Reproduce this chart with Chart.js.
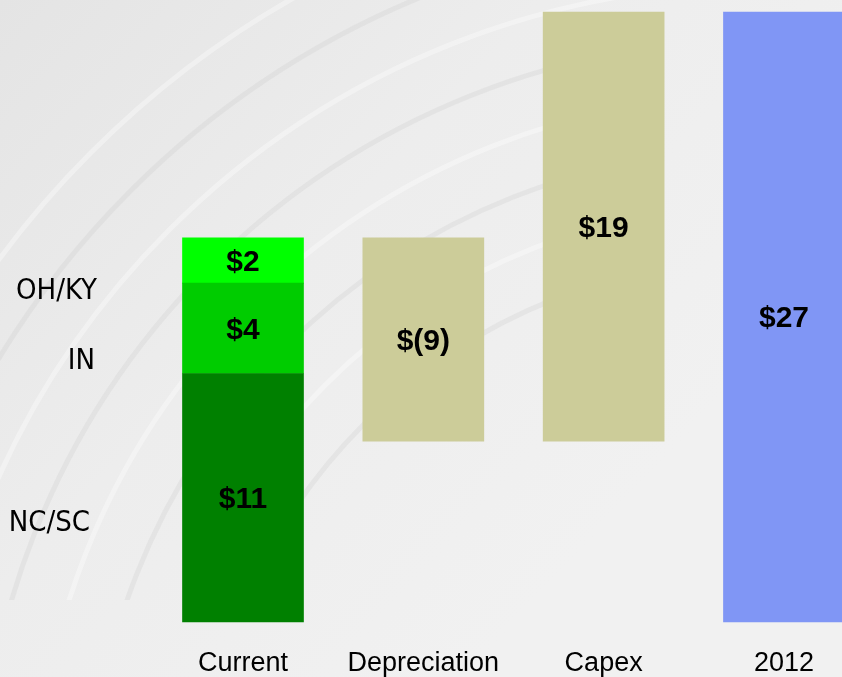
<!DOCTYPE html>
<html>
<head>
<meta charset="utf-8">
<script src="https://cdn.jsdelivr.net/npm/chart.js@4.4.1/dist/chart.umd.min.js"></script>
<style>
  html, body { margin: 0; padding: 0; background: #efefef; }
  canvas { display: block; }
</style>
</head>
<body>
<canvas id="chart" width="842" height="677"></canvas>
<script>
// chart data
const categories = ['Current', 'Depreciation', 'Capex', '2012'];
const regions = ['NC/SC', 'IN', 'OH/KY'];
const currentValues = [11, 4, 2];
const depreciation = -9;
const capex = 19;
const total2012 = 27;
const valueLabels = ['$11', '$4', '$2', '$(9)', '$19', '$27'];

const regionColors = ['#008000', '#00CC00', '#00FF00'];
const stepColor = '#CCCC99';
const totalColor = '#8096F5';

// build floating ranges for the waterfall
let running = 0;
const datasets = [];
currentValues.forEach((v, i) => {
  const data = [null, null, null, null];
  data[0] = [running, running + v];
  running += v;
  datasets.push({ label: regions[i], data: data, backgroundColor: regionColors[i] });
});
const depData = [null, [running + depreciation, running], null, null];
running += depreciation;
datasets.push({ label: 'Depreciation', data: depData, backgroundColor: stepColor });
const capexData = [null, null, [running, running + capex], null];
datasets.push({ label: 'Capex', data: capexData, backgroundColor: stepColor });
datasets.push({ label: '2012', data: [null, null, null, [0, total2012]], backgroundColor: totalColor });
datasets.forEach(ds => { ds.clip = false; ds.barThickness = 121; ds.borderWidth = 0; });

const backgroundPlugin = {
  id: 'background',
  beforeDraw(chart) {
    const ctx = chart.ctx;
    const w = chart.width, h = chart.height;
    ctx.save();
    const g = ctx.createLinearGradient(0, 0, w * 0.7, h * 0.8);
    g.addColorStop(0, '#e4e4e4');
    g.addColorStop(0.5, '#ededed');
    g.addColorStop(1, '#f1f1f1');
    ctx.fillStyle = g;
    ctx.fillRect(0, 0, w, h);
    // faint curved roof structure in the upper left
    ctx.beginPath();
    ctx.rect(0, 0, 620, 600);
    ctx.clip();
    ctx.lineWidth = 5;
    for (let i = 0; i < 8; i++) {
      ctx.strokeStyle = i % 2 ? 'rgba(255,255,255,0.35)' : 'rgba(205,205,205,0.3)';
      ctx.beginPath();
      ctx.arc(760, 820, 560 + i * 55, Math.PI * 1.0, Math.PI * 1.5);
      ctx.stroke();
    }
    ctx.restore();
  }
};

const labelPlugin = {
  id: 'labels',
  afterDatasetsDraw(chart) {
    const ctx = chart.ctx;
    ctx.save();
    ctx.fillStyle = '#000';
    ctx.textAlign = 'center';
    ctx.textBaseline = 'middle';
    ctx.font = 'bold 30px "Liberation Sans", Arial, sans-serif';
    chart.data.datasets.forEach((ds, i) => {
      const meta = chart.getDatasetMeta(i);
      meta.data.forEach((bar, j) => {
        if (!ds.data[j]) return;
        ctx.fillText(valueLabels[i], bar.x, (bar.y + bar.base) / 2 + 2);
      });
    });
    // region names to the left of the Current bar
    const rightEdges = [90, 95, 97];
    const drops = [26, 33, 31];
    ctx.font = '29px "Liberation Sans Narrow", "Arial Narrow", "DejaVu Sans Condensed", sans-serif';
    ctx.textAlign = 'right';
    regions.forEach((name, i) => {
      const bar = chart.getDatasetMeta(i).data[0];
      ctx.fillText(name, rightEdges[i], (bar.y + bar.base) / 2 + drops[i]);
    });
    ctx.restore();
  }
};

new Chart(document.getElementById('chart'), {
  type: 'bar',
  data: { labels: categories, datasets: datasets },
  options: {
    responsive: false,
    animation: false,
    grouped: false,
    layout: { padding: { left: 243, right: 56, top: 12, bottom: 0 } },
    plugins: { legend: { display: false }, tooltip: { enabled: false } },
    scales: {
      x: {
        offset: false,
        grid: { display: false, drawTicks: false },
        border: { display: false },
        afterFit(scale) { scale.height = 55; },
        ticks: {
          color: '#000',
          padding: 28,
          maxRotation: 0,
          autoSkip: false,
          font: { family: '"Liberation Sans", Arial, sans-serif', size: 27, lineHeight: 1 }
        }
      },
      y: { display: false, min: 0, max: 27 }
    }
  },
  plugins: [backgroundPlugin, labelPlugin]
});
</script>
</body>
</html>
